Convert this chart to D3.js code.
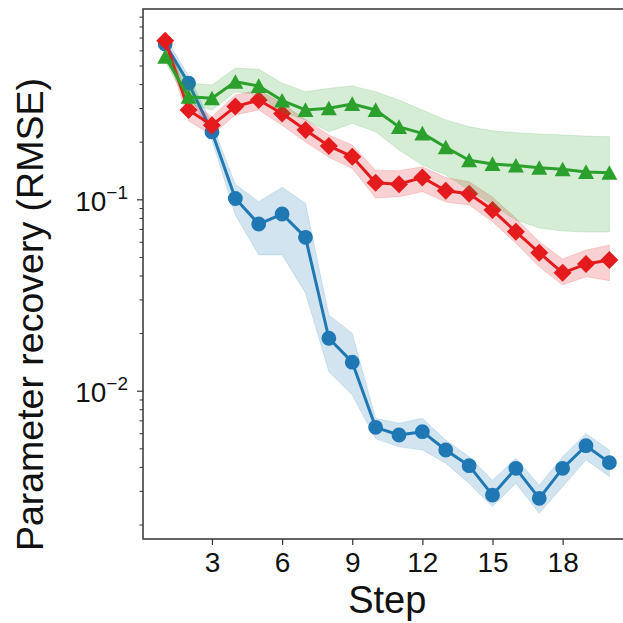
<!DOCTYPE html>
<html>
<head>
<meta charset="utf-8">
<script src="https://cdn.jsdelivr.net/npm/d3@7"></script>
<style>
  body { margin: 0; background: #fff; }
  text { font-family: "Liberation Sans", Arial, sans-serif; fill: #111; }
</style>
</head>
<body>
<div id="chart"></div>
<script>
// steps on the x axis
const steps = [1, 2, 3, 4, 5, 6, 7, 8, 9, 10, 11, 12, 13, 14, 15, 16, 17, 18, 19, 20];

// blue (circles)
const blueMean = [0.648, 0.404, 0.225, 0.101, 0.0743, 0.0838, 0.0633, 0.0188, 0.0141, 0.00644, 0.00587, 0.00611, 0.0049, 0.00406, 0.00285, 0.00393, 0.00274, 0.00393, 0.00516, 0.00421];
const blueLo = [0.603, 0.364, 0.204, 0.0828, 0.0512, 0.0512, 0.0324, 0.01256, 0.0095, 0.00561, 0.00509, 0.0049, 0.00418, 0.00328, 0.00248, 0.00328, 0.00229, 0.00315, 0.00435, 0.00356];
const blueHi = [0.705, 0.441, 0.247, 0.12, 0.0972, 0.1156, 0.0953, 0.0249, 0.01995, 0.00718, 0.00676, 0.00718, 0.00552, 0.00452, 0.00341, 0.00444, 0.00321, 0.00452, 0.00598, 0.0049];

// red (diamonds)
const redMean = [0.674, 0.293, 0.244, 0.305, 0.330, 0.281, 0.230, 0.190, 0.167, 0.122, 0.120, 0.130, 0.111, 0.107, 0.0879, 0.0677, 0.0526, 0.0413, 0.0459, 0.0482];
const redLo = [0.632, 0.2565, 0.217, 0.276, 0.293, 0.244, 0.199, 0.166, 0.145, 0.1016, 0.1032, 0.1096, 0.0968, 0.0934, 0.0764, 0.0589, 0.0444, 0.0357, 0.0394, 0.0376];
const redHi = [0.713, 0.330, 0.270, 0.351, 0.372, 0.318, 0.261, 0.217, 0.192, 0.142, 0.141, 0.148, 0.130, 0.1236, 0.1028, 0.0796, 0.0601, 0.0488, 0.0543, 0.0577];

// green (triangles)
const greenMean = [0.556, 0.343, 0.337, 0.411, 0.391, 0.328, 0.293, 0.299, 0.315, 0.293, 0.239, 0.221, 0.187, 0.160, 0.153, 0.150, 0.146, 0.1436, 0.139, 0.1376];
const greenLo = [0.522, 0.315, 0.293, 0.365, 0.351, 0.286, 0.260, 0.2255, 0.249, 0.2255, 0.181, 0.151, 0.134, 0.1118, 0.0934, 0.078, 0.0708, 0.0683, 0.0675, 0.0675];
const greenHi = [0.603, 0.405, 0.396, 0.485, 0.478, 0.405, 0.365, 0.380, 0.391, 0.365, 0.330, 0.293, 0.260, 0.2394, 0.228, 0.223, 0.2194, 0.217, 0.214, 0.2124];

// ticks
const xTicks = [3, 6, 9, 12, 15, 18];
const yMajorTicks = [0.01, 0.1];
const yMajorExp = ["\u22122", "\u22121"];
const yMinorTicks = [0.002, 0.003, 0.004, 0.005, 0.006, 0.007, 0.008, 0.009,
                     0.02, 0.03, 0.04, 0.05, 0.06, 0.07, 0.08, 0.09,
                     0.2, 0.3, 0.4, 0.5, 0.6, 0.7, 0.8, 0.9];

var width = 623, height = 623;
var margin = {top: 9, left: 143, bottom: 539, right: 631.6};

const svg = d3.select("#chart")
    .append("svg")
    .attr("width", width)
    .attr("height", height);

const xscale = d3.scaleLinear()
    .domain([0.05, 20.95])
    .range([margin.left, margin.right]);

const yscale = d3.scaleLog()
    .domain([0.00168, 0.987])
    .range([margin.bottom, margin.top]);

// series drawn in the same order as the original: blue, red, green
const series = [
    {color: "#1f77b4", mean: blueMean, lo: blueLo, hi: blueHi, marker: "circle"},
    {color: "#e41a1c", mean: redMean, lo: redLo, hi: redHi, marker: "diamond"},
    {color: "#2ca02c", mean: greenMean, lo: greenLo, hi: greenHi, marker: "triangle"}
];

const markerPath = {
    circle: "M7.4,0A7.4,7.4 0 1,1 -7.4,0A7.4,7.4 0 1,1 7.4,0Z",
    diamond: "M0,-9L9,0L0,9L-9,0Z",
    triangle: "M0,-7.6L8,7L-8,7Z"
};

const plot = svg.append("g");

series.forEach(s => {
    const band = d3.area()
        .x((d, i) => xscale(steps[i]))
        .y0((d, i) => yscale(s.lo[i]))
        .y1((d, i) => yscale(s.hi[i]));

    plot.append("path")
        .attr("d", band(steps))
        .attr("fill", s.color)
        .attr("fill-opacity", 0.2)
        .attr("stroke", s.color)
        .attr("stroke-opacity", 0.15)
        .attr("stroke-width", 1);

    const line = d3.line()
        .x((d, i) => xscale(steps[i]))
        .y((d, i) => yscale(s.mean[i]));

    plot.append("path")
        .attr("d", line(steps))
        .attr("fill", "none")
        .attr("stroke", s.color)
        .attr("stroke-width", 3)
        .attr("stroke-linejoin", "round");

    plot.selectAll(null)
        .data(steps)
        .enter()
        .append("path")
        .attr("d", markerPath[s.marker])
        .attr("transform", (d, i) => "translate(" + xscale(d) + "," + yscale(s.mean[i]) + ")")
        .attr("fill", s.color);
});

// x axis
const xaxis = d3.axisBottom(xscale).tickValues(xTicks).tickSize(6).tickPadding(6);
const xaxisG = svg.append("g")
    .attr("transform", "translate(0," + margin.bottom + ")")
    .call(xaxis);
xaxisG.select(".domain").remove();
xaxisG.selectAll(".tick line").attr("stroke", "#333").attr("stroke-width", 1.2);
xaxisG.selectAll(".tick text")
    .attr("font-size", "28px")
    .attr("font-family", "Liberation Sans, Arial, sans-serif")
    .attr("fill", "#111")
    .attr("dy", null)
    .attr("y", 33);

// y axis, minor then major
const yminor = d3.axisLeft(yscale).tickValues(yMinorTicks).tickSize(3.5).tickFormat("");
const yminorG = svg.append("g")
    .attr("transform", "translate(" + margin.left + ",0)")
    .call(yminor);
yminorG.select(".domain").remove();
yminorG.selectAll(".tick line").attr("stroke", "#333").attr("stroke-width", 1);

const ymajor = d3.axisLeft(yscale).tickValues(yMajorTicks).tickSize(6).tickFormat("");
const ymajorG = svg.append("g")
    .attr("transform", "translate(" + margin.left + ",0)")
    .call(ymajor);
ymajorG.select(".domain").remove();
ymajorG.selectAll(".tick line").attr("stroke", "#333").attr("stroke-width", 1.2);

const ylab = ymajorG.selectAll(".tick text")
    .attr("x", -15)
    .attr("dy", null)
    .attr("y", 11)
    .attr("text-anchor", "end")
    .attr("font-family", "Liberation Sans, Arial, sans-serif")
    .attr("fill", "#111");
ylab.each(function(d, i) {
    const t = d3.select(this);
    t.append("tspan").attr("font-size", "28px").text("10");
    t.append("tspan").attr("font-size", "19px").attr("dy", -12).text(yMajorExp[i]);
});

// frame
svg.append("rect")
    .attr("x", margin.left)
    .attr("y", margin.top)
    .attr("width", margin.right - margin.left)
    .attr("height", margin.bottom - margin.top)
    .attr("fill", "none")
    .attr("stroke", "#333")
    .attr("stroke-width", 1.5);

// labels
svg.append("text")
    .attr("x", (margin.left + margin.right) / 2)
    .attr("y", 613)
    .attr("text-anchor", "middle")
    .attr("font-size", "38px")
    .text("Step");

svg.append("text")
    .attr("transform", "translate(43,314.6) rotate(-90)")
    .attr("text-anchor", "middle")
    .attr("font-size", "37.5px")
    .text("Parameter recovery (RMSE)");
</script>
</body>
</html>
